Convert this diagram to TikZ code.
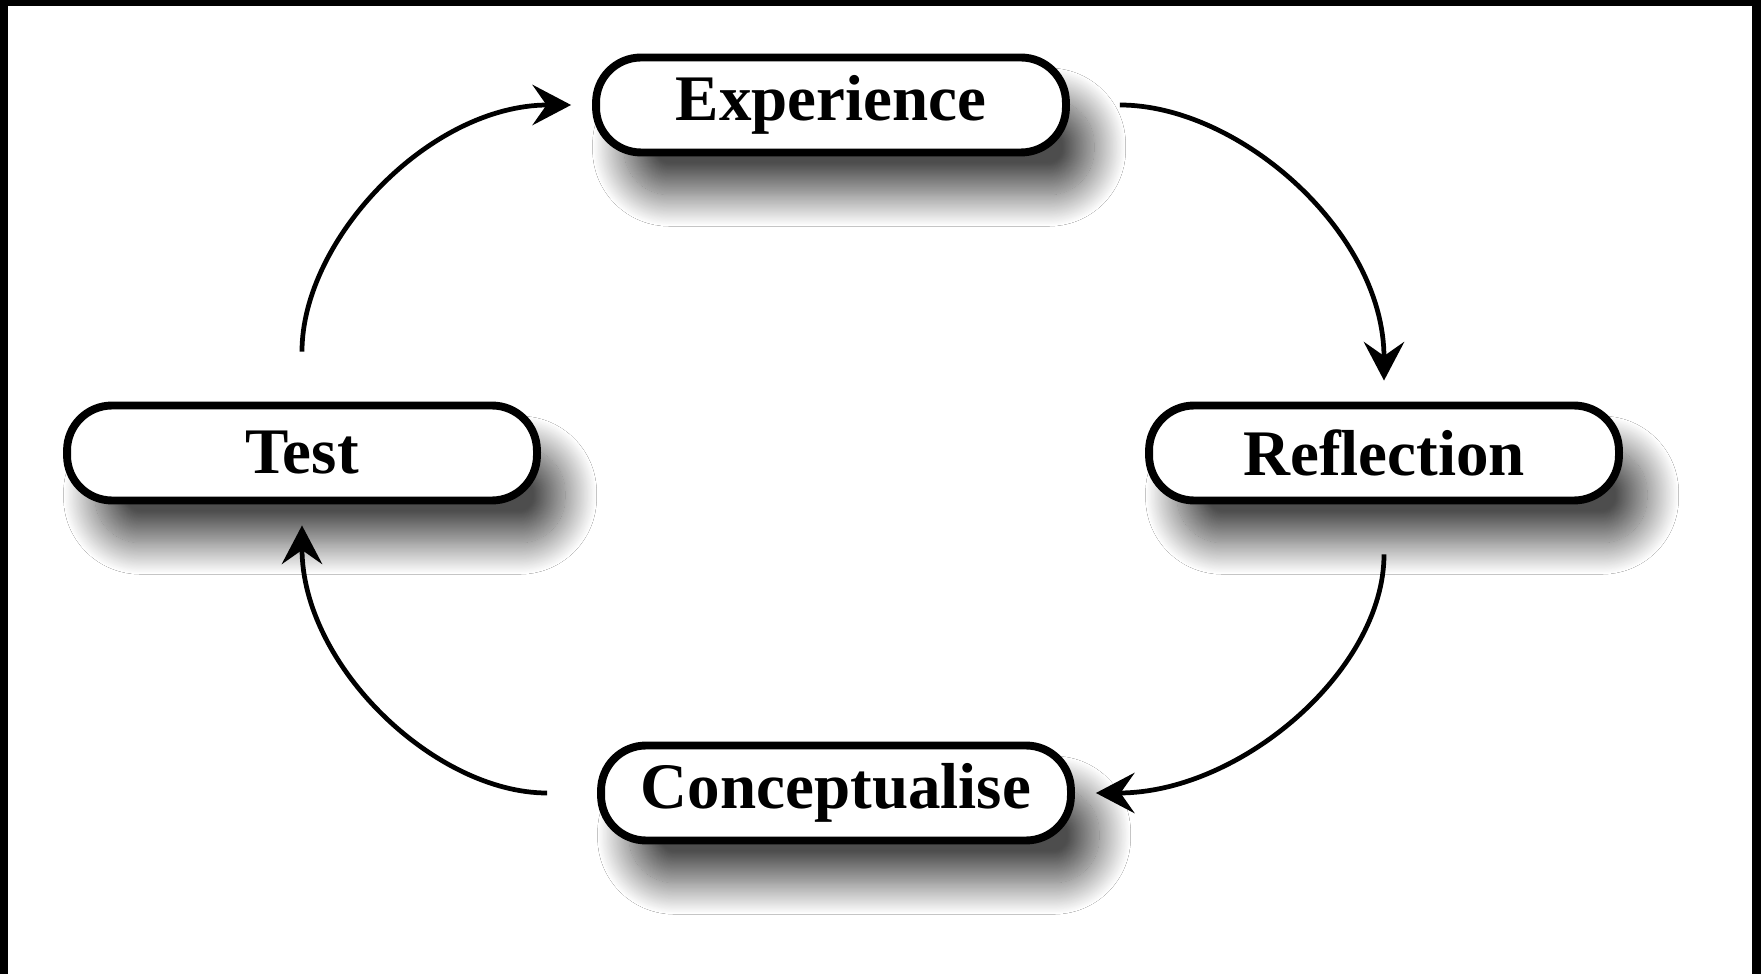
\documentclass[tikz,border=0pt]{standalone}
\usepackage{fontspec}
\setmainfont{Liberation Serif}
\usetikzlibrary{arrows.meta,shadows.blur}

\begin{document}
\begin{tikzpicture}
[x=0.02cm,y=0.02cm,>={Stealth[length=22pt,width=23pt,inset=8pt]},
 stage/.style={draw,line width=4.5pt,fill=white,rounded corners=0.9cm,
   minimum width=9.4cm,minimum height=1.9cm,
   font=\fontsize{37}{44}\selectfont\bfseries,
   blur shadow={shadow xshift=16pt,shadow yshift=-24pt,shadow blur radius=18pt,
     shadow blur steps=40,shadow opacity=70}},
 flow/.style={->,line width=2.7pt,shorten <=1cm,shorten >=0.42cm}]

% the frame
\fill[black] (0,0) rectangle (1761,974);
\fill[white] (8,0) rectangle (1752,968);
\useasboundingbox (0,0) rectangle (1761,974);

% the four stages
\node[stage] (exp) at (831,869) {Experience};
\node[stage] (refl) at (1384,521) {Reflection};
\node[stage] (conc) at (836,181) {Conceptualise};
\node[stage] (test) at (302,521) {Test};

% the cycle
\draw[flow] (exp.east) to[out=0,in=90] (refl.north);
\draw[flow] (refl.south) to[out=-90,in=0] (conc.east);
\draw[flow] (conc.west) to[out=180,in=-90] (test.south);
\draw[flow] (test.north) to[out=90,in=180] (exp.west);

\end{tikzpicture}
\end{document}
